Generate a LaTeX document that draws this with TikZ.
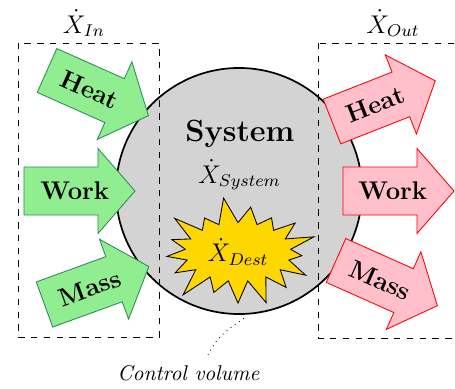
\documentclass[tikz,border=0pt]{standalone}
\usetikzlibrary{shapes.symbols}
\definecolor{arrowgreen}{RGB}{144,238,144}
\definecolor{arrowgreenline}{RGB}{46,139,87}
\definecolor{arrowpink}{RGB}{255,192,203}
\definecolor{sysgray}{RGB}{211,211,211}
\definecolor{destgold}{RGB}{255,215,0}
\begin{document}
\begin{tikzpicture}[x=0.469pt,y=-0.469pt,
  inarrow/.style={draw=arrowgreenline, fill=arrowgreen},
  outarrow/.style={draw=red, fill=arrowpink},
  arrowtext/.style={font=\large\bfseries, anchor=west, inner sep=0pt},
  cvbox/.style={dashed},
  flowlabel/.style={font=\large, anchor=base, inner sep=0pt}]
\useasboundingbox (0,0) rectangle (455,389);
% system
\node[circle, draw, thick, fill=sysgray, minimum size=115.4pt, inner sep=0pt] (sys) at (239,191) {};
% control volume boxes
\draw[cvbox] (18,43) rectangle (159,337);
\draw[cvbox] (318,43) rectangle (462,338);
% inflows
\begin{scope}[shift={(47,70.5)}, rotate=-24]
  \draw[inarrow] (0,24) -- (74,24) -- (74,42.5) -- (111,0) -- (74,-42.5) -- (74,-24) -- (0,-24) -- cycle;
  \node[arrowtext, rotate=-24] (heatin) at (16,0) {Heat};
\end{scope}
\begin{scope}[shift={(24,191)}]
  \draw[inarrow] (0,24) -- (74,24) -- (74,42.5) -- (111,0) -- (74,-42.5) -- (74,-24) -- (0,-24) -- cycle;
  \node[arrowtext] (workin) at (16,0) {Work};
\end{scope}
\begin{scope}[shift={(44.5,304.5)}, rotate=20]
  \draw[inarrow] (0,24) -- (74,24) -- (74,42.5) -- (111,0) -- (74,-42.5) -- (74,-24) -- (0,-24) -- cycle;
  \node[arrowtext, rotate=20] (massin) at (16,0) {Mass};
\end{scope}
% outflows
\begin{scope}[shift={(332,121.5)}, rotate=21.5]
  \draw[outarrow] (0,24) -- (74,24) -- (74,42.5) -- (111,0) -- (74,-42.5) -- (74,-24) -- (0,-24) -- cycle;
  \node[arrowtext, rotate=21.5] (heatout) at (16,0) {Heat};
\end{scope}
\begin{scope}[shift={(343,191)}]
  \draw[outarrow] (0,24) -- (74,24) -- (74,42.5) -- (111,0) -- (74,-42.5) -- (74,-24) -- (0,-24) -- cycle;
  \node[arrowtext] (workout) at (15,0) {Work};
\end{scope}
\begin{scope}[shift={(336,260.5)}, rotate=-24]
  \draw[outarrow] (0,24) -- (74,24) -- (74,42.5) -- (111,0) -- (74,-42.5) -- (74,-24) -- (0,-24) -- cycle;
  \node[arrowtext, rotate=-24] (massout) at (16,0) {Mass};
\end{scope}
% texts in system
\node[font=\Large\bfseries, anchor=base, inner sep=0pt] (systitle) at (240,141) {System};
\node[flowlabel] (xsys) at (239.5,183) {$\dot X_{System}$};
\node[starburst, draw, fill=destgold, font=\large, yscale=-1] (dest) at (238,252) {\phantom{$\dot X_{Dest}$}};
\node[font=\large] (desttext) at (dest.center) {$\dot X_{Dest}$};
% flow labels
\node[flowlabel] (xin) at (84,33) {$\dot X_{In}$};
\node[flowlabel] (xout) at (393,33) {$\dot X_{Out}$};
% control volume label
\node[anchor=base, inner sep=0pt] (cvlabel) at (188.5,380) {\textit{Control volume}};
\coordinate (cvstart) at (208,355);
\coordinate (cvtip) at (246,317);
\draw[dotted] (cvstart) to[out=65,in=215] (cvtip);
\end{tikzpicture}
\end{document}
